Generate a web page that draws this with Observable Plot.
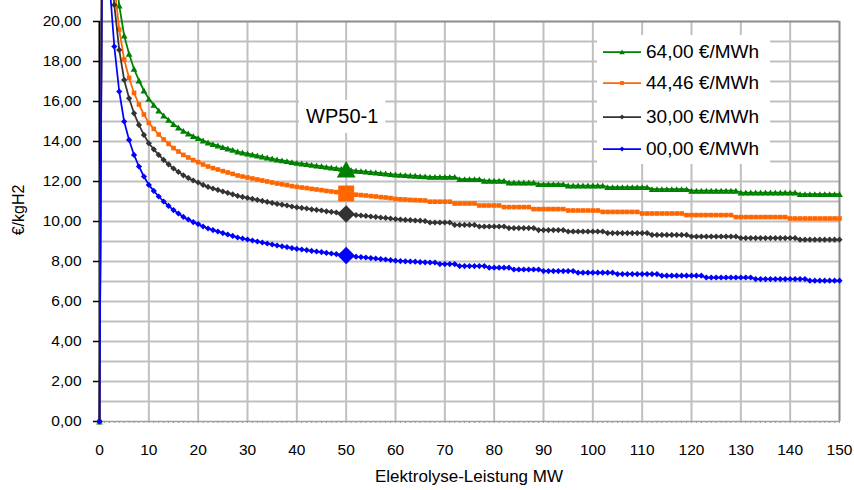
<!DOCTYPE html>
<html>
<head>
<meta charset="utf-8">
<script src="https://cdn.jsdelivr.net/npm/d3@7"></script>
<script src="https://cdn.jsdelivr.net/npm/@observablehq/plot@0.6"></script>
<style>
  body { margin: 0; background: #fff; font-family: "Liberation Sans", Arial, sans-serif; }
  #wrap { position: relative; width: 854px; height: 490px; overflow: hidden; }
  #legend { position: absolute; left: 597px; top: 35px; width: 173px; height: 129px; background: #fff; }
  .lrow { position: absolute; left: 0; height: 22px; width: 173px; }
  .lrow svg { position: absolute; left: 6px; top: 0; }
  .lrow span { position: absolute; left: 49px; top: 0; line-height: 22px; font-size: 19px; color: #000; white-space: nowrap; }
</style>
</head>
<body>
<div id="wrap"><div id="legend"></div></div>
<script>
// ---- data ----
const mw = d3.range(0, 151); // Elektrolyse-Leistung MW, one point per MW

const seriesNames = ["64,00 €/MWh", "44,46 €/MWh", "30,00 €/MWh", "00,00 €/MWh"];

const green64 = [0,49,26.3,23.05,20.8,19.3,18.38,17.63,17.05,16.55,
16.13,15.83,15.55,15.3,15.08,14.87,14.7,14.53,14.4,14.27,
14.17,14.05,13.95,13.87,13.8,13.72,13.65,13.58,13.5,13.45,
13.4,13.35,13.3,13.25,13.2,13.15,13.1,13.06,13.02,12.97,
12.93,12.9,12.87,12.83,12.8,12.77,12.73,12.7,12.67,12.63,
12.6,12.57,12.54,12.52,12.5,12.47,12.45,12.42,12.4,12.37,
12.35,12.33,12.32,12.3,12.29,12.27,12.26,12.23,12.23,12.23,
12.23,12.23,12.23,12.12,12.12,12.12,12.12,12.12,12.04,12.04,
12.04,12.04,12.04,11.95,11.95,11.95,11.95,11.95,11.95,11.87,
11.87,11.87,11.87,11.87,11.87,11.8,11.8,11.8,11.8,11.8,
11.8,11.8,11.8,11.72,11.72,11.72,11.72,11.72,11.72,11.72,
11.72,11.72,11.62,11.62,11.62,11.62,11.62,11.62,11.62,11.62,
11.54,11.54,11.54,11.54,11.54,11.54,11.54,11.54,11.54,11.54,
11.45,11.45,11.45,11.45,11.45,11.45,11.45,11.45,11.45,11.45,
11.45,11.45,11.37,11.37,11.37,11.37,11.37,11.37,11.37,11.37,
11.37];

const orange4446 = [0,48,25.1,21.85,19.6,18.1,17.18,16.43,15.85,15.35,
14.93,14.63,14.35,14.1,13.88,13.67,13.5,13.33,13.2,13.07,
12.97,12.85,12.75,12.67,12.6,12.52,12.45,12.38,12.3,12.25,
12.2,12.15,12.1,12.05,12.0,11.95,11.9,11.86,11.82,11.77,
11.73,11.7,11.67,11.63,11.6,11.57,11.53,11.5,11.47,11.43,
11.4,11.37,11.34,11.32,11.3,11.27,11.25,11.22,11.2,11.17,
11.13,11.11,11.1,11.08,11.07,11.06,11.05,10.99,10.99,10.99,
10.99,10.99,10.9,10.9,10.9,10.9,10.9,10.8,10.8,10.8,
10.8,10.8,10.72,10.72,10.72,10.72,10.72,10.72,10.62,10.62,
10.62,10.62,10.62,10.62,10.62,10.55,10.55,10.55,10.55,10.55,
10.55,10.55,10.48,10.48,10.48,10.48,10.48,10.48,10.48,10.48,
10.4,10.4,10.4,10.4,10.4,10.4,10.4,10.4,10.4,10.32,
10.32,10.32,10.32,10.32,10.32,10.32,10.32,10.32,10.32,10.22,
10.22,10.22,10.22,10.22,10.22,10.22,10.22,10.22,10.22,10.22,
10.15,10.15,10.15,10.15,10.15,10.15,10.15,10.15,10.15,10.15,
10.15];

const gray30 = [0,47,24.1,20.83,18.58,17.08,16.16,15.41,14.83,14.33,
13.91,13.61,13.33,13.08,12.86,12.65,12.48,12.31,12.18,12.05,
11.95,11.83,11.73,11.65,11.58,11.5,11.43,11.36,11.28,11.23,
11.18,11.13,11.08,11.03,10.98,10.93,10.88,10.84,10.8,10.75,
10.71,10.68,10.65,10.61,10.58,10.55,10.51,10.48,10.45,10.41,
10.38,10.35,10.32,10.3,10.28,10.25,10.23,10.2,10.18,10.15,
10.12,10.1,10.08,10.07,10.05,10.04,10.02,9.95,9.95,9.95,
9.95,9.95,9.83,9.83,9.83,9.83,9.83,9.75,9.75,9.75,
9.75,9.75,9.75,9.67,9.67,9.67,9.67,9.67,9.67,9.57,
9.57,9.57,9.57,9.57,9.57,9.5,9.5,9.5,9.5,9.5,
9.5,9.5,9.5,9.42,9.42,9.42,9.42,9.42,9.42,9.42,
9.42,9.42,9.33,9.33,9.33,9.33,9.33,9.33,9.33,9.33,
9.25,9.25,9.25,9.25,9.25,9.25,9.25,9.25,9.25,9.25,
9.17,9.17,9.17,9.17,9.17,9.17,9.17,9.17,9.17,9.17,
9.17,9.17,9.09,9.09,9.09,9.09,9.09,9.09,9.09,9.09,
9.09];

const blue00 = [0,45,22,18.75,16.5,15.0,14.08,13.33,12.75,12.25,
11.83,11.53,11.25,11.0,10.78,10.57,10.4,10.23,10.1,9.97,
9.87,9.75,9.65,9.57,9.5,9.42,9.35,9.28,9.2,9.15,
9.1,9.05,9.0,8.95,8.9,8.85,8.8,8.76,8.72,8.67,
8.63,8.6,8.57,8.53,8.5,8.47,8.43,8.4,8.37,8.33,
8.3,8.27,8.24,8.22,8.2,8.17,8.15,8.12,8.1,8.07,
8.04,8.02,8.01,8.0,7.99,7.97,7.96,7.95,7.95,7.87,
7.87,7.87,7.87,7.77,7.77,7.77,7.77,7.77,7.77,7.69,
7.69,7.69,7.69,7.69,7.6,7.6,7.6,7.6,7.6,7.6,
7.52,7.52,7.52,7.52,7.52,7.52,7.52,7.44,7.44,7.44,
7.44,7.44,7.44,7.44,7.44,7.37,7.37,7.37,7.37,7.37,
7.37,7.37,7.37,7.37,7.29,7.29,7.29,7.29,7.29,7.29,
7.29,7.29,7.29,7.2,7.2,7.2,7.2,7.2,7.2,7.2,
7.2,7.2,7.2,7.12,7.12,7.12,7.12,7.12,7.12,7.12,
7.12,7.12,7.12,7.12,7.04,7.04,7.04,7.04,7.04,7.04,
7.04];

const wpMW = 50;          // operating point WP50-1
const wpLabel = "WP50-1";
const wpLabelY = 15.25;

const yTicks = [0, 2, 4, 6, 8, 10, 12, 14, 16, 18, 20];
const xTicks = [0, 10, 20, 30, 40, 50, 60, 70, 80, 90, 100, 110, 120, 130, 140, 150];
const yGrid = d3.range(1, 20, 1);
const xGrid = [10, 20, 30, 40, 50, 60, 70, 80, 90, 100, 110, 120, 130, 140];
const xMinor = d3.range(0, 151, 1);
const xTitle = "Elektrolyse-Leistung MW";
const yTitle = "€/kgH2";

// ---- styles ----
const FONT = "'Liberation Sans', Arial, sans-serif";
const styles = [
  { values: green64,    color: "#008000", symbol: "triangle", r: 2.5, rBig: 7.0, dy: 1, dyBig: 2.5 },
  { values: orange4446, color: "#ff6600", symbol: "square",   r: 2.6, rBig: 9.0, dy: 0, dyBig: 0 },
  { values: gray30,     color: "#333333", symbol: "diamond2", r: 2.8, rBig: 7.9, dy: 0, dyBig: 0 },
  { values: blue00,     color: "#0000ff", symbol: "diamond2", r: 2.8, rBig: 7.8, dy: 0, dyBig: 0 }
];

const fmt = d => d.toFixed(2).replace(".", ",");

const seriesMarks = [];
styles.forEach(s => {
  const data = mw.map((x, i) => ({ x, y: s.values[i] }));
  seriesMarks.push(Plot.line(data, { x: "x", y: "y", stroke: s.color, strokeWidth: 1.75 }));
  seriesMarks.push(Plot.dot(data, { x: "x", y: "y", symbol: s.symbol, r: s.r, fill: s.color, stroke: "none", dy: s.dy }));
});
const bigMarks = styles.map(s => {
  const data = mw.map((x, i) => ({ x, y: s.values[i] })).filter(d => d.x === wpMW);
  return Plot.dot(data, { x: "x", y: "y", symbol: s.symbol, r: s.rBig, fill: s.color, stroke: "none", dy: s.dyBig });
});

const chart = Plot.plot({
  width: 854,
  height: 490,
  marginLeft: 99,
  marginRight: 15,
  marginTop: 21,
  marginBottom: 69,
  style: { fontFamily: FONT, fontSize: "15px", color: "#000", background: "#fff" },
  x: { domain: [0, 150] },
  y: { domain: [0, 20] },
  marks: [
    Plot.gridY(yGrid, { stroke: "#c0c0c0", strokeOpacity: 1, strokeWidth: 2 }),
    Plot.gridX(xGrid, { stroke: "#c0c0c0", strokeOpacity: 1, strokeWidth: 2 }),
    Plot.ruleY([yTicks[yTicks.length - 1]], { stroke: "#8c8c8c", strokeWidth: 2 }),
    Plot.ruleX([xTicks[xTicks.length - 1]], { stroke: "#8c8c8c", strokeWidth: 2 }),
    Plot.ruleY([0], { stroke: "#a0a0a0", strokeWidth: 1.5 }),
    Plot.axisX(xMinor, { tickSize: 2, tickFormat: () => "", stroke: "#999", label: null }),
    Plot.axisX(xTicks, { tickSize: 0, tickPadding: 22, fontSize: 15, label: null, tickFormat: d => String(d) }),
    Plot.axisY(yTicks, { tickSize: 6, tickPadding: 12, fontSize: 15, label: null, tickFormat: fmt, stroke: "#000", strokeWidth: 1.5 }),
    Plot.ruleX([0], { stroke: "#000", strokeWidth: 2 }),
    ...seriesMarks,
    ...bigMarks,
    Plot.text([wpLabel], { x: () => wpMW, y: () => wpLabelY, text: d => d, fontSize: 20, fill: "#000", dx: -4 })
  ]
});

document.getElementById("wrap").prepend(chart);

const svgEl = chart.tagName.toLowerCase() === "svg" ? chart : chart.querySelector("svg");
const svg = d3.select(svgEl);

// enforce font family / sizes on Plot's text
svgEl.querySelectorAll("text").forEach(t => {
  t.style.fontFamily = FONT;
  const s = t.textContent;
  if (s === wpLabel) t.style.fontSize = "20px";
  else t.style.fontSize = "15.5px";
});

// axis titles, positioned from the scales' ranges
const sx = chart.scale("x"), sy = chart.scale("y");
const xMid = (sx.range[0] + sx.range[1]) / 2;
const yMid = (sy.range[0] + sy.range[1]) / 2;
svg.append("text")
  .attr("x", xMid).attr("y", sy.range[0] + 61)
  .attr("text-anchor", "middle")
  .style("font-family", FONT).style("font-size", "17px").attr("fill", "#000")
  .text(xTitle);
svg.append("text")
  .attr("transform", `translate(${sx.range[0] - 81},${yMid - 11}) rotate(-90)`)
  .attr("text-anchor", "middle").attr("dy", "0.35em")
  .style("font-family", FONT).style("font-size", "16px").attr("fill", "#000")
  .text(yTitle);

// white box behind the WP50-1 label
svgEl.querySelectorAll("text").forEach(t => {
  if (t.textContent === wpLabel) {
    const b = t.getBBox();
    const rect = document.createElementNS("http://www.w3.org/2000/svg", "rect");
    rect.setAttribute("x", b.x - 7);
    rect.setAttribute("y", b.y - 5);
    rect.setAttribute("width", b.width + 14);
    rect.setAttribute("height", b.height + 11);
    rect.setAttribute("fill", "#fff");
    if (t.getAttribute("transform")) rect.setAttribute("transform", t.getAttribute("transform"));
    t.parentNode.insertBefore(rect, t);
  }
});

// legend (inside the plot area, white box)
const legend = document.getElementById("legend");
const rowTops = [6, 37, 71, 103];
styles.forEach((s, i) => {
  const row = document.createElement("div");
  row.className = "lrow";
  row.style.top = rowTops[i] + "px";
  const symType = s.symbol === "triangle" ? d3.symbolTriangle : s.symbol === "square" ? d3.symbolSquare : d3.symbolDiamond2;
  const path = d3.symbol(symType, Math.PI * s.r * s.r * 0.7)();
  row.innerHTML = `<svg width="40" height="22"><line x1="0" x2="38" y1="11" y2="11" stroke="${s.color}" stroke-width="1.75"/><path d="${path}" transform="translate(19,${11 + s.dy * 0.7})" fill="${s.color}"/></svg><span>${seriesNames[i]}</span>`;
  legend.appendChild(row);
});
</script>
</body>
</html>
